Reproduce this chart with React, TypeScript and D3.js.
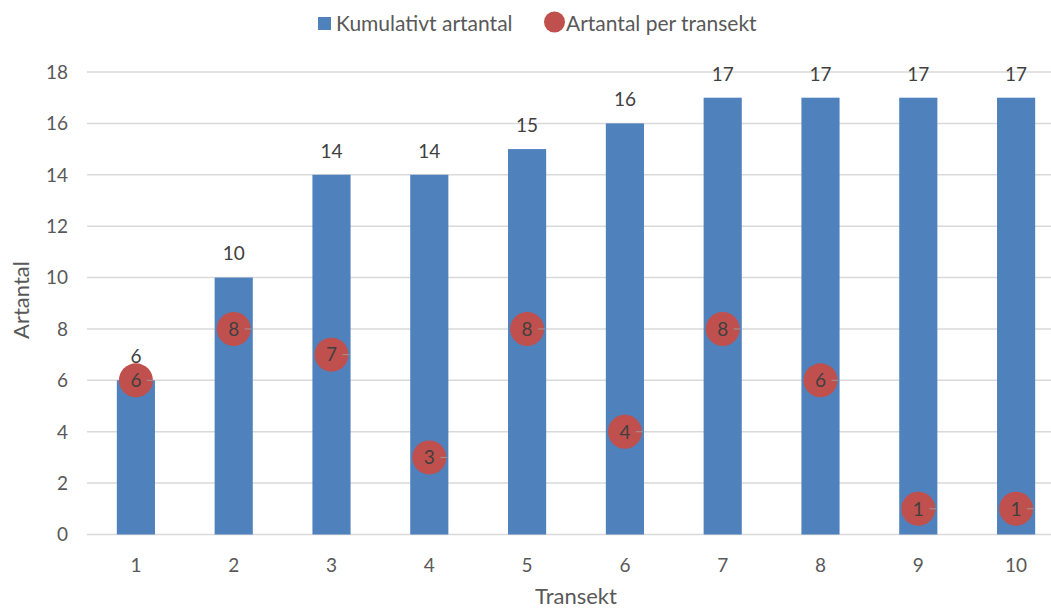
import React from "react";
import * as d3 from "d3";

const transekter = ["1", "2", "3", "4", "5", "6", "7", "8", "9", "10"];
const kumulativt = [6, 10, 14, 14, 15, 16, 17, 17, 17, 17];
const perTransekt = [6, 8, 7, 3, 8, 4, 8, 6, 1, 1];
const yTicks = [0, 2, 4, 6, 8, 10, 12, 14, 16, 18];

const W = 1051;
const H = 609;
const FONT = "Lato, 'Liberation Sans', sans-serif";
const TEXT = "#595959";
const BAR = "#4F81BD";
const DOT = "#C0504D";

export default function App() {
  const x = d3
    .scaleBand<string>()
    .domain(transekter)
    .range([87, 1065])
    .paddingInner(0.61)
    .paddingOuter(0.305);
  const y = d3.scaleLinear().domain([0, 18]).range([534.5, 72]);
  const r = 17;

  return (
    <svg
      width={W}
      height={H}
      style={{ position: "absolute", left: 0, top: 0, background: "#fff" }}
      fontFamily={FONT}
    >
      {/* gridlines */}
      {yTicks.map((t) => (
        <line
          key={"g" + t}
          x1={87}
          x2={W}
          y1={y(t)}
          y2={y(t)}
          stroke="#D9D9D9"
          strokeWidth={1.5}
        />
      ))}
      {/* y tick labels */}
      {yTicks.map((t) => (
        <text
          key={"yl" + t}
          x={68}
          y={y(t)}
          dy="0.36em"
          textAnchor="end"
          fontSize={19}
          fill={TEXT}
        >
          {t}
        </text>
      ))}
      {/* cumulative bars */}
      {transekter.map((c, i) => (
        <rect
          key={"b" + c}
          x={x(c)}
          y={y(kumulativt[i])}
          width={x.bandwidth()}
          height={y(0) - y(kumulativt[i])}
          fill={BAR}
        />
      ))}
      {/* bar value labels */}
      {transekter.map((c, i) => (
        <text
          key={"bl" + c}
          x={(x(c) as number) + x.bandwidth() / 2}
          y={y(kumulativt[i]) - 24}
          dy="0.36em"
          textAnchor="middle"
          fontSize={19}
          fill="#404040"
        >
          {kumulativt[i]}
        </text>
      ))}
      {/* per-transect markers */}
      {transekter.map((c, i) => {
        const cx = (x(c) as number) + x.bandwidth() / 2;
        const cy = y(perTransekt[i]);
        return (
          <g key={"p" + c}>
            <circle cx={cx} cy={cy} r={r} fill={DOT} />
            <line
              x1={cx + 11}
              x2={cx + r + 1}
              y1={cy}
              y2={cy}
              stroke="#9a9a9a"
              strokeWidth={1}
            />
            <text
              x={cx}
              y={cy}
              dy="0.36em"
              textAnchor="middle"
              fontSize={19}
              fill="#404040"
            >
              {perTransekt[i]}
            </text>
          </g>
        );
      })}
      {/* x tick labels */}
      {transekter.map((c) => (
        <text
          key={"xl" + c}
          x={(x(c) as number) + x.bandwidth() / 2}
          y={565}
          dy="0.36em"
          textAnchor="middle"
          fontSize={19}
          fill={TEXT}
        >
          {c}
        </text>
      ))}
      {/* axis titles */}
      <text
        x={576}
        y={604}
        textAnchor="middle"
        fontSize={22}
        fill={TEXT}
      >
        Transekt
      </text>
      <text
        transform={`translate(29, 300) rotate(-90)`}
        textAnchor="middle"
        fontSize={22}
        fill={TEXT}
      >
        Artantal
      </text>
      {/* legend */}
      <rect x={318} y={17} width={13} height={13} fill={BAR} />
      <text x={336} y={23} dy="0.36em" fontSize={21} fill={TEXT}>
        Kumulativt artantal
      </text>
      <circle cx={554.5} cy={22} r={10.5} fill={DOT} />
      <text x={566} y={23} dy="0.36em" fontSize={21} fill={TEXT}>
        Artantal per transekt
      </text>
    </svg>
  );
}
